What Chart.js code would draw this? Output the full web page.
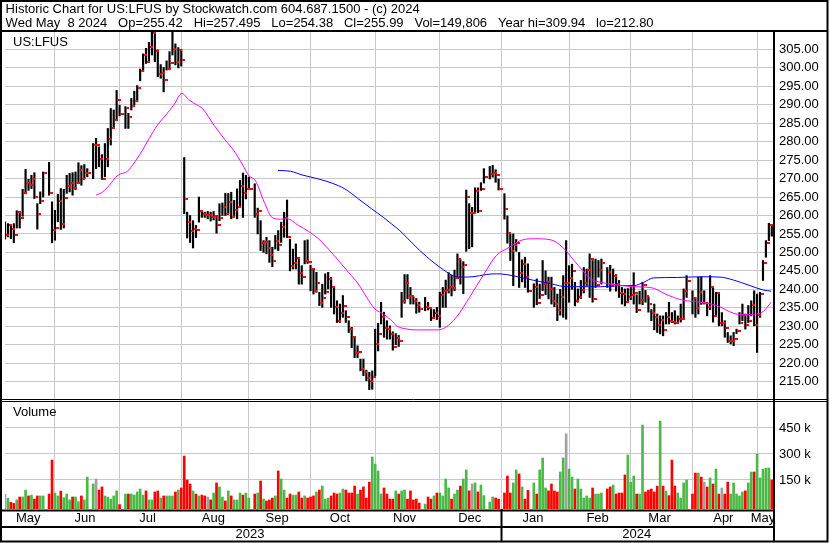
<!DOCTYPE html>
<html lang="en">
<head>
<meta charset="UTF-8">
<title>US:LFUS historic chart</title>
<script src="https://cdn.jsdelivr.net/npm/chart.js@4.4.1/dist/chart.umd.min.js"></script>
<style>
  body { margin: 0; background: #fff; }
</style>
</head>
<body>
<canvas id="chart" width="830" height="543"></canvas>
<script>
// one slot per weekday, May 9 2023 .. May 8 2024; null = market holiday
const symbol = 'US:LFUS';
const headerLines = [
  ' Historic Chart for US:LFUS by Stockwatch.com 604.687.1500 - (c) 2024',
  ' Wed May  8 2024   Op=255.42   Hi=257.495   Lo=254.38   Cl=255.99   Vol=149,806   Year hi=309.94   lo=212.80'
];
const monthNames = ['May', 'Jun', 'Jul', 'Aug', 'Sep', 'Oct', 'Nov', 'Dec', 'Jan', 'Feb', 'Mar', 'Apr', 'May'];
const monthLabelAt = [7.9, 27.2, 48.5, 70.9, 92.6, 114, 136, 158.2, 179.7, 201.7, 222.8, 244.5, 258];
const monthStart = [17, 39, 60, 83, 104, 126, 148, 169, 192, 213, 234, 256];
const yearNames = ['2023', '2024'];
const yearLabelAt = [83.4, 215];
const yearStart = 169;
const priceTicks = [215, 220, 225, 230, 235, 240, 245, 250, 255, 260, 265, 270, 275, 280, 285, 290, 295, 300, 305];
const volTicks = [150, 300, 450];

const closes = [
  254.6, 257.4, 256.3, 254.8, 260.9, 259.2, 266.2, 268.7, 268.2, 269.8,
  264.9, 260.3, 264.0, 271.5, null, 266.0, 256.0, 256.5, 264.0, 257.6,
  264.8, 268.0, 268.7, 267.4, 268.7, 272.3, 270.0, 271.5, 271.6, null,
  279.0, 279.0, 275.3, 270.0, 275.4, 280.7, 283.8, 285.8, 291.3, 287.4,
  null, 289.0, 286.8, 289.7, 291.0, 294.6, 299.2, 303.5, 301.7, 305.6,
  309.4, 304.7, 298.3, 298.6, 296.7, 299.7, 301.4, 305.0, 301.7, 304.8,
  302.2, 264.4, 258.2, 255.7, 256.4, 256.2, 261.1, 260.3, 260.1, 260.1,
  259.5, 259.8, 257.3, 259.3, 262.4, 260.3, 263.6, 259.7, 261.5, 262.3,
  268.0, 266.0, 267.1, 267.3, null, 260.4, 261.1, 252.5, 252.8, 251.2,
  249.4, 247.8, 253.2, 252.1, 257.0, 259.3, 254.3, 246.4, 247.0, 248.4,
  244.3, 243.3, 247.8, 247.5, 245.5, 239.6, 241.6, 236.4, 237.6, 239.4,
  242.8, 240.7, 235.1, 231.5, 233.7, 235.6, 232.4, 229.2, 227.2, 222.7,
  222.9, 218.4, 217.7, 215.9, 215.2, 216.3, 225.3, 227.8, 232.6, 229.6,
  229.3, 227.9, 224.4, 226.8, 225.9, 236.9, 241.6, 238.3, 238.1, 236.9,
  235.8, 234.6, null, 235.1, 235.0, 232.1, 233.5, 232.8, 238.5, 239.6,
  239.8, 240.5, 240.4, 243.0, 248.2, 246.1, 246.7, 265.0, 260.6, 260.6,
  266.6, 261.3, 267.2, 270.4, null, 271.3, 271.5, 271.1, 267.2, null,
  261.7, 255.2, 250.3, 252.1, 252.6, 244.5, 246.8, 243.4, 239.6, null,
  240.7, 236.4, 238.5, 241.4, 242.1, 240.0, 236.9, 236.0, 234.5, 238.0,
  241.7, 241.7, 243.0, 245.0, 236.9, 237.8, 239.7, 241.8, 245.1, 248.1,
  237.5, 241.2, 245.3, 247.1, null, 244.8, 241.0, 243.7, 241.5, 239.1,
  238.7, 236.5, 238.0, 238.5, 239.0, 234.5, 237.2, 241.1, 238.1, 235.9,
  233.6, 232.5, 230.4, 231.7, 229.1, 232.4, 231.3, 231.1, 231.0, 231.9,
  232.0, 239.6, 242.2, null, 237.6, 234.8, 239.2, 236.4, 236.4, 235.3,
  240.7, 232.8, 238.9, 231.0, 231.0, 229.6, 225.9, 226.0, 226.5, 228.6,
  231.0, 233.1, 230.2, 231.5, 235.7, 230.4, 233.1, 238.6, 247.2, 252.5,
  257.3, 256.0
];
const highs = [
  258.3, 257.8, 257.2, 257.8, 261.3, 261.0, 267.1, 272.5, 269.8, 270.9,
  271.6, 263.2, 266.4, 271.8, null, 274.4, 263.7, 261.4, 265.8, 267.3,
  267.1, 270.9, 271.4, 271.6, 271.8, 274.3, 273.5, 273.8, 272.7, null,
  279.5, 280.9, 278.6, 276.5, 279.5, 283.6, 289.0, 288.6, 293.9, 289.9,
  null, 289.5, 287.7, 291.7, 293.7, 295.2, 299.7, 303.8, 305.3, 306.9,
  309.94, 309.1, 304.9, 300.9, 300.1, 301.9, 304.4, 309.9, 306.5, 305.5,
  305.0, 275.7, 260.9, 260.0, 258.6, 257.3, 265.0, 260.9, 260.9, 261.1,
  260.9, 261.1, 260.0, 263.2, 263.4, 266.0, 266.0, 266.3, 264.1, 267.2,
  269.5, 271.5, 270.9, 270.4, null, 268.6, 262.0, 258.6, 253.2, 254.1,
  253.2, 251.4, 254.6, 255.9, 258.2, 260.9, 264.2, 253.6, 250.9, 252.3,
  248.2, 246.4, 253.2, 253.4, 246.5, 245.5, 244.6, 239.2, 241.4, 244.2,
  244.6, 243.2, 240.5, 236.9, 236.0, 238.3, 234.2, 231.5, 229.7, 227.0,
  224.7, 221.1, 221.1, 218.1, 217.5, 217.9, 229.2, 230.8, 236.5, 233.8,
  231.5, 230.1, 228.5, 228.0, 227.5, 239.2, 244.0, 244.0, 240.5, 238.0,
  237.5, 236.5, null, 237.8, 236.5, 235.1, 234.5, 235.1, 239.2, 240.5,
  242.5, 244.5, 243.8, 245.2, 249.6, 248.0, 247.5, 266.9, 263.2, 262.2,
  267.5, 267.5, 268.9, 272.7, null, 273.3, 273.6, 272.4, 269.9, null,
  265.9, 259.9, 255.0, 255.0, 253.5, 250.0, 248.0, 248.7, 246.9, null,
  241.5, 242.8, 241.4, 247.8, 245.0, 243.3, 243.3, 240.5, 238.7, 240.0,
  243.7, 253.2, 246.4, 246.8, 241.9, 240.1, 242.4, 245.9, 245.5, 249.6,
  247.8, 248.2, 247.8, 248.2, null, 245.9, 246.5, 245.5, 244.0, 242.4,
  240.5, 240.1, 240.2, 241.0, 244.5, 238.5, 239.5, 241.9, 239.7, 238.0,
  234.5, 236.0, 233.3, 232.8, 232.8, 233.7, 236.5, 233.7, 234.2, 232.8,
  236.0, 240.1, 243.7, null, 239.6, 237.8, 243.3, 243.4, 239.6, 236.5,
  243.7, 240.5, 239.2, 238.7, 233.7, 231.5, 228.3, 227.4, 228.3, 229.2,
  233.7, 236.0, 233.3, 235.6, 236.9, 239.6, 238.7, 239.2, 247.8, 253.2,
  257.9, 257.5
];
const lows = [
  253.6, 254.2, 253.7, 252.6, 256.6, 256.6, 259.8, 266.1, 266.8, 267.3,
  264.6, 256.3, 263.2, 265.0, null, 265.5, 252.6, 253.3, 258.3, 256.2,
  256.6, 266.0, 266.4, 265.5, 267.0, 268.7, 268.2, 270.0, 270.5, null,
  270.0, 272.7, 273.2, 269.8, 270.5, 273.2, 279.1, 283.6, 286.1, 287.0,
  null, 283.6, 283.6, 288.6, 289.9, 290.8, 296.5, 299.0, 301.2, 301.7,
  303.5, 301.7, 297.6, 297.2, 293.5, 299.4, 300.1, 303.5, 300.8, 300.0,
  300.5, 260.5, 253.9, 252.7, 251.2, 254.0, 258.2, 259.5, 259.5, 259.1,
  258.5, 258.8, 255.2, 258.6, 260.0, 260.0, 260.4, 259.1, 260.0, 259.1,
  262.3, 259.5, 264.5, 267.2, null, 259.5, 255.0, 250.5, 250.0, 249.6,
  247.3, 246.1, 250.9, 250.5, 252.7, 254.1, 254.0, 245.0, 245.5, 245.5,
  241.4, 241.4, 246.9, 247.0, 239.6, 238.7, 239.2, 235.6, 235.1, 238.7,
  240.1, 235.1, 233.3, 231.0, 231.0, 232.4, 231.0, 228.3, 224.2, 221.5,
  221.5, 217.9, 216.6, 215.2, 212.8, 212.9, 216.6, 223.3, 230.6, 227.0,
  226.5, 226.5, 223.5, 225.0, 224.5, 232.4, 236.2, 237.4, 236.0, 236.0,
  233.5, 233.8, null, 234.2, 234.4, 231.5, 232.6, 231.8, 229.7, 235.1,
  235.1, 239.0, 238.2, 239.6, 243.3, 241.4, 238.8, 250.3, 251.0, 251.5,
  261.0, 260.8, 266.8, 268.8, null, 269.9, 270.4, 269.0, 266.9, null,
  259.0, 252.5, 247.8, 241.0, 250.3, 240.5, 242.0, 240.5, 239.2, null,
  235.1, 235.8, 237.5, 239.6, 238.5, 237.4, 236.0, 235.3, 231.5, 233.0,
  232.4, 231.9, 236.5, 240.0, 235.5, 236.5, 237.5, 239.0, 241.0, 237.8,
  236.5, 240.5, 243.3, 241.4, null, 240.5, 239.5, 241.6, 239.5, 237.8,
  236.0, 235.5, 236.8, 237.2, 236.0, 233.7, 236.0, 235.8, 236.5, 233.8,
  231.5, 229.0, 228.3, 227.9, 227.4, 230.6, 230.6, 231.0, 230.6, 231.1,
  231.1, 232.2, 237.8, null, 233.3, 232.4, 233.3, 235.9, 236.0, 232.8,
  234.5, 231.1, 232.8, 230.1, 230.1, 227.0, 225.6, 225.2, 224.7, 228.0,
  230.6, 231.5, 229.2, 231.0, 232.8, 230.1, 222.9, 232.4, 242.4, 248.7,
  253.2, 254.4
];
// volume in thousands of shares
const volumes = [
  67, 44, 21, 15, 35, 52, 52, 92, 58, 63,
  40, 58, 58, 58, null, 69, 265, 75, 58, 86,
  48, 69, 35, 52, 52, 25, 58, 35, 167, null,
  127, 156, 92, 110, 58, 52, 40, 58, 87, 8,
  null, 69, 69, 69, 63, 81, 98, 63, 87, 35,
  35, 81, 87, 46, 58, 58, 58, 58, 81, 92,
  104, 288, 150, 127, 87, 69, 58, 63, 58, 52,
  35, 75, 133, 110, 52, 29, 87, 58, 35, 35,
  75, 63, 75, 46, null, 69, 75, 144, 40, 29,
  35, 46, 58, 202, 156, 92, 46, 69, 63, 63,
  81, 46, 58, 46, 52, 58, 81, 92, 115, 40,
  46, 58, 75, 69, 75, 98, 92, 75, 75, 115,
  69, 92, 110, 46, 138, 283, 242, 202, 69, 104,
  69, 40, 40, 87, 69, 87, 92, 40, 87, 35,
  40, 17, null, 11, 52, 40, 58, 75, 75, 58,
  156, 104, 40, 69, 92, 115, 156, 208, 87, 127,
  133, 81, 121, 60, null, 23, 52, 46, 40, null,
  75, 173, 75, 133, 208, 185, 110, 40, 90, null,
  133, 69, 208, 277, 104, 87, 127, 87, 81, 196,
  277, 416, 213, 167, 98, 156, 98, 46, 58, 46,
  104, 69, 69, 75, null, 98, 110, 121, 69, 75,
  75, 179, 294, 138, 173, 69, 69, 467, 81, 92,
  98, 81, 115, 490, 115, 87, 60, 265, 115, 75,
  46, 133, 150, null, 69, 190, 190, 167, 138, 110,
  162, 127, 213, 69, 104, 69, 138, 69, 133, 69,
  58, 81, 87, 133, 196, 196, 300, 162, 213, 219,
  219, 150
];

// moving averages (slot, price)
const maShortAt = [31, 33.3, 35.5, 38.4, 41.7, 44.6, 46.8, 49.1, 51.9, 54.7, 57.6, 60.2, 62.7, 65.5, 67.2,
  71.2, 75.1, 77.9, 80.7, 83, 85.2, 88.3, 90.9, 93.7, 96, 99.9, 103.3, 106.7, 110.1, 113.5,
  116.9, 120.3, 123.1, 125.9, 128.8, 131.6, 133.3, 137, 140.1, 147.4, 150, 153.6, 158.1, 162.7, 167.2,
  171.7, 176.2, 180.2, 185.8, 189.8, 193.7, 196.6, 199.4, 202.8, 207.3, 214, 219.7, 225.4, 230.5, 236.7,
  242.3, 248, 251.4, 255.9, 258.1, 260.8];
const maShortVal = [265.5, 266.4, 268.2, 270.9, 272.0, 275.0, 277.7, 280.9, 284.5, 287.2, 290.1, 293.1, 291.3, 289.9, 289.0,
  284.4, 280.3, 277.6, 274.0, 270.8, 269.5, 263.5, 259.5, 259.0, 259.1, 257.3, 255.7, 253.7, 250.9, 247.8,
  244.6, 241.4, 237.8, 234.7, 233.3, 231.5, 230.1, 229.2, 229.0, 229.0, 229.7, 232.4, 237.8, 243.7, 249.1,
  251.4, 253.4, 253.7, 253.4, 251.4, 247.8, 245.1, 242.8, 241.9, 241.3, 240.7, 240.5, 238.5, 237.1, 236.5,
  235.6, 233.5, 233.1, 233.3, 234.0, 236.5];
const maLongAt = [92.9, 97.1, 101.1, 106.7, 111.2, 115.7, 120.3, 124.8, 128.8, 131.6, 134.4, 138.9, 143.4, 148, 152.5,
  154.7, 159.3, 163.8, 167.2, 170.6, 175.1, 179.6, 186.4, 190.9, 196, 202.8, 209.6, 214, 217.4, 220.8,
  228.8, 236.7, 243.4, 248, 253.6, 258.1, 260.8];
const maLongVal = [272.2, 272.0, 271.0, 269.9, 268.8, 267.2, 264.5, 261.8, 259.5, 257.7, 255.9, 252.3, 248.9, 246.0, 243.7,
  243.3, 243.4, 244.0, 244.2, 244.0, 243.3, 242.5, 241.4, 240.7, 240.7, 240.7, 241.0, 241.0, 241.9, 243.1,
  243.2, 243.4, 243.3, 242.5, 241.0, 239.8, 239.5];

const GRID = '#c8c8c8';
const UP = '#4db848', DOWN = '#ff0000', FLAT = '#a0a0a0';
const FAMILY = 'Arial, "Liberation Sans", sans-serif';
const FONT = { family: FAMILY, size: 13 };
const xMin = 0, xMax = 261.75;
const volMin = -17.3, volMax = 611.5;

const rangeData = [], closeData = [], volData = [], volColors = [];
let prev = null;
closes.forEach((c, i) => {
  if (c === null) return;
  rangeData.push({ x: i, y: [lows[i], highs[i]] });
  closeData.push({ x: i, y: c });
  volData.push({ x: i, y: volumes[i] });
  volColors.push(prev === null || c === prev ? FLAT : (c > prev ? UP : DOWN));
  prev = c;
});
const maShort = maShortAt.map((x, i) => ({ x, y: maShortVal[i] }));
const maLong = maLongAt.map((x, i) => ({ x, y: maLongVal[i] }));

// little red close tick sitting just right of each bar
const tick = document.createElement('canvas');
tick.width = 8;
tick.height = 2;
const tctx = tick.getContext('2d');
tctx.fillStyle = '#ff0000';
tctx.fillRect(5, 0, 3, 2);

const xAxis = (extra) => Object.assign({
  type: 'linear', min: xMin, max: xMax, position: 'bottom', offset: false,
  border: { display: false }
}, extra);

const frames = {
  id: 'frames',
  afterDraw(chart) {
    const { ctx, chartArea: a, scales } = chart;
    const right = chart.width - 2.5, bottom = chart.height - 1.5;
    const volTop = scales.yVol.top;
    const xBreak = scales.x.getPixelForValue(yearStart);
    const seg = (x1, y1, x2, y2, w) => {
      ctx.lineWidth = w;
      ctx.beginPath();
      ctx.moveTo(x1, y1);
      ctx.lineTo(x2, y2);
      ctx.stroke();
    };
    ctx.save();
    ctx.strokeStyle = '#000';
    ctx.lineWidth = 2;
    ctx.strokeRect(1, 1, right - 1, bottom - 1);
    seg(0, a.top, right, a.top, 2);
    seg(a.right, a.top, a.right, bottom, 2);
    seg(0, volTop - 0.5, right, volTop - 0.5, 1);
    seg(0, volTop + 1.5, right, volTop + 1.5, 1);
    seg(0, a.bottom + 1.5, a.right, a.bottom + 1.5, 2);
    seg(0, scales.xMonth.bottom, a.right, scales.xMonth.bottom, 2);
    seg(xBreak, a.bottom, xBreak, bottom, 2);
    ctx.fillStyle = '#000';
    ctx.font = '13px ' + FAMILY;
    ctx.textBaseline = 'middle';
    ctx.fillText(symbol, a.left + 8, scales.y.top + 11);
    ctx.fillText('Volume', a.left + 8, volTop + 12);
    ctx.restore();
  }
};

new Chart(document.getElementById('chart'), {
  type: 'bar',
  data: {
    datasets: [
      { type: 'line', label: 'MA short', data: maShort, borderColor: '#ff00ff', borderWidth: 1,
        pointRadius: 0, cubicInterpolationMode: 'monotone', xAxisID: 'x', yAxisID: 'y', order: 0 },
      { type: 'line', label: 'MA long', data: maLong, borderColor: '#0000ff', borderWidth: 1,
        pointRadius: 0, cubicInterpolationMode: 'monotone', xAxisID: 'x', yAxisID: 'y', order: 0 },
      { type: 'line', label: 'Close', data: closeData, showLine: false, pointStyle: tick,
        pointRadius: 2, xAxisID: 'x', yAxisID: 'y', order: 1 },
      { type: 'bar', label: 'Range', data: rangeData, backgroundColor: '#000', barThickness: 1.5,
        grouped: false, xAxisID: 'x', yAxisID: 'y', order: 2 },
      { type: 'bar', label: 'Volume', data: volData, backgroundColor: volColors, barThickness: 2,
        grouped: false, base: volMin, xAxisID: 'x', yAxisID: 'yVol', order: 3 }
    ]
  },
  options: {
    responsive: false,
    animation: false,
    events: [],
    layout: { padding: { left: 2, right: 0, top: 0, bottom: 1 } },
    plugins: {
      legend: { display: false },
      tooltip: { enabled: false },
      title: {
        display: true, text: headerLines, align: 'start', color: '#000',
        font: { family: FAMILY, size: 13, weight: 'normal', lineHeight: 1.1 },
        padding: { top: 2, bottom: 0.4 }
      }
    },
    scales: {
      x: xAxis({
        grid: { color: GRID, drawTicks: false, offset: false },
        ticks: { display: false },
        afterBuildTicks: s => { s.ticks = monthStart.map(v => ({ value: v })); },
        afterFit: s => { s.height = 0; }
      }),
      xMonth: xAxis({
        grid: { display: false, drawTicks: false, offset: false },
        ticks: { autoSkip: false, maxRotation: 0, padding: 2, color: '#000', font: FONT,
          callback: (v, i) => monthNames[i] },
        afterBuildTicks: s => { s.ticks = monthLabelAt.map(v => ({ value: v })); },
        afterFit: s => { s.height = 18; }
      }),
      xYear: xAxis({
        grid: { display: false, drawTicks: false, offset: false },
        ticks: { autoSkip: false, maxRotation: 0, padding: 0, color: '#000', font: FONT,
          callback: (v, i) => yearNames[i] },
        afterBuildTicks: s => { s.ticks = yearLabelAt.map(v => ({ value: v })); },
        afterFit: s => { s.height = 15; }
      }),
      y: {
        type: 'linear', position: 'right', stack: 'panels', stackWeight: 369,
        min: 210, max: 310,
        grid: { color: GRID, drawTicks: false },
        border: { display: false },
        ticks: { autoSkip: false, padding: 5, color: '#000', font: FONT, callback: v => v.toFixed(2) },
        afterBuildTicks: s => { s.ticks = priceTicks.map(v => ({ value: v })); },
        afterFit: s => { s.width = 56; }
      },
      yVol: {
        type: 'linear', position: 'right', stack: 'panels', stackWeight: 109,
        min: volMin, max: volMax,
        grid: { color: GRID, drawTicks: false },
        border: { display: false },
        ticks: { autoSkip: false, padding: 5, color: '#000', font: FONT, callback: v => v + ' k' },
        afterBuildTicks: s => { s.ticks = volTicks.map(v => ({ value: v })); },
        afterFit: s => { s.width = 56; }
      }
    }
  },
  plugins: [frames]
});
</script>
</body>
</html>
